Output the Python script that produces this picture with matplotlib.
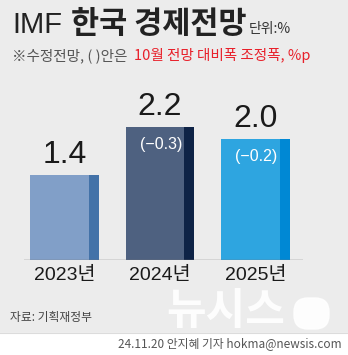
import matplotlib.pyplot as plt
from matplotlib.patches import Rectangle, FancyBboxPatch

plt.rcParams['font.family'] = ['Noto Sans CJK KR', 'DejaVu Sans']

years = ['2023년', '2024년', '2025년']
values = [1.4, 2.2, 2.0]
changes = [None, '(−0.3)', '(−0.2)']
front_colors = ['#819fc8', '#4e6180', '#2ea5e0']
side_colors = ['#4372a8', '#0e2346', '#0088d4']

W, H = 348, 355
fig = plt.figure(figsize=(W / 100, H / 100), dpi=100)
fig.patch.set_facecolor('#ececec')

num_font = dict(family=['Liberation Sans', 'Noto Sans CJK KR', 'DejaVu Sans'])

# фон и белая полоса внизу
bg = fig.add_axes([0, 0, 1, 1])
bg.set_xlim(0, W)
bg.set_ylim(H, 0)
bg.axis('off')
bg.add_patch(Rectangle((0, 333), W, 22, color='white', zorder=0))
bg.plot([0, W], [333, 333], color='#dcdcdc', lw=0.8)

# заголовок
bg.text(12, 33, 'IMF', fontsize=21, fontweight='light', color='#222222',
        family=['Liberation Sans', 'DejaVu Sans'], va='baseline')
bg.text(71, 33, '한국 경제전망', fontsize=22, fontweight='bold', color='#222222', va='baseline')
bg.text(249, 33, '단위:%', fontsize=10, color='#333333', va='baseline')
bg.text(12, 60, '※수정전망, ( )안은', fontsize=10.5, color='#555555', va='baseline')
bg.text(134, 60, '10월 전망 대비폭 조정폭, %p', fontsize=10.5, color='#e8202a', va='baseline')

# водяной знак
bg.text(166, 333, '뉴시스', fontsize=31, fontweight='bold', color='white', alpha=0.9,
        va='bottom')
bg.add_patch(FancyBboxPatch((294, 298), 35, 31, boxstyle='round,pad=0,rounding_size=14',
                            color='white', alpha=0.9))

# подписи внизу
bg.text(10, 318, '자료: 기획재정부', fontsize=8.5, color='#444444', va='center')
bg.text(342, 344, '24.11.20 안지혜 기자 hokma@newsis.com', fontsize=8.5, color='#555555',
        va='center', ha='right')

# столбцы
left, right, base, top = 24, 303, 260, 100
ax = fig.add_axes([left / W, (H - base) / H, (right - left) / W, (base - top) / H])
ax.set_facecolor('none')
unit = 95.5
ax.set_xlim(-(64.5 - left) / unit, 2 + (right - 255.5) / unit)
ax.set_ylim(0, (base - top) / 60.5)

x = range(len(values))
bw, sw = 0.72, 0.105
for i, v in enumerate(values):
    ax.bar(i - bw / 2, v, width=bw - sw, align='edge', color=front_colors[i], zorder=2)
    ax.bar(i + bw / 2 - sw, v, width=sw, align='edge', color=side_colors[i], zorder=2)
    ax.text(i, v + 0.08, f'{v:.1f}', ha='center', va='bottom', fontsize=23,
            color='#1a1a1a', **num_font)
    if changes[i]:
        ax.text(i + 0.01, v - 0.17, changes[i], ha='center', va='top', fontsize=11.5,
                color='white', **num_font)

ax.axhline(0, color='#777777', lw=1, zorder=3)
ax.set_xticks(list(x))
ax.set_xticklabels(years, fontsize=14, color='#1a1a1a', **num_font)
ax.tick_params(axis='x', length=0, pad=5)
ax.set_yticks([])
for s in ax.spines.values():
    s.set_visible(False)

fig.savefig('out.png', dpi=100, facecolor=fig.get_facecolor())
